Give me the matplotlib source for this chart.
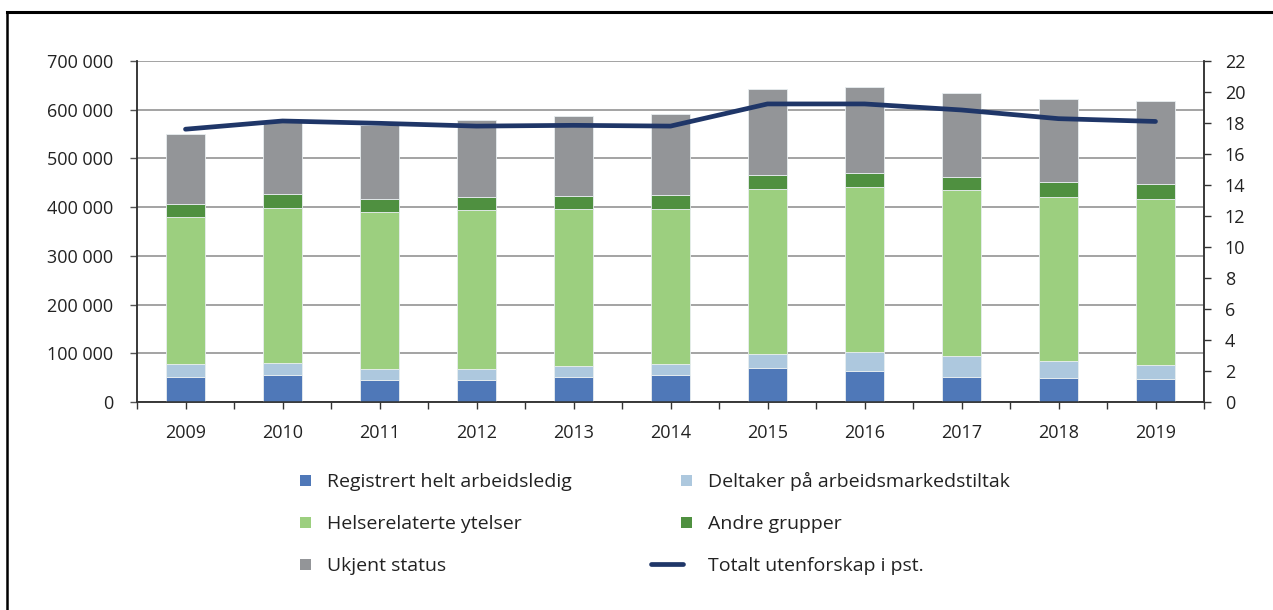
import numpy as np
import matplotlib
matplotlib.use("Agg")
import matplotlib.pyplot as plt
from matplotlib.lines import Line2D
from matplotlib.patches import Rectangle, Patch
from matplotlib.legend_handler import HandlerBase
from matplotlib.ticker import FuncFormatter, FixedLocator

years = ["2009", "2010", "2011", "2012", "2013", "2014", "2015", "2016", "2017", "2018", "2019"]
registrert = [51900, 56100, 45800, 45800, 51300, 55400, 69100, 62900, 51300, 49300, 46500]
deltaker = [26700, 23900, 21900, 21700, 22600, 21900, 30100, 39000, 43100, 34900, 29500]
helse = [301200, 318900, 322300, 327300, 322900, 319500, 338700, 340100, 340100, 337300, 340700]
andre = [27300, 28700, 27400, 26000, 26700, 28800, 28800, 28100, 28100, 30100, 30800]
ukjent = [142400, 147800, 151200, 157400, 163000, 165600, 175800, 175800, 171700, 170400, 171100]
totalt_pst = [17.6, 18.13, 17.98, 17.8, 17.85, 17.8, 19.23, 19.23, 18.84, 18.28, 18.1]

labels = ["Registrert helt arbeidsledig", "Deltaker på arbeidsmarkedstiltak",
          "Helserelaterte ytelser", "Andre grupper", "Ukjent status",
          "Totalt utenforskap i pst."]
colors = ["#4f78b8", "#adc8de", "#9ccf7f", "#4f9040", "#939598"]
line_color = "#1f3668"

plt.rcParams['font.family'] = ['Open Sans', 'DejaVu Sans']
FS = 13
LFS = 14

fig = plt.figure(figsize=(12.73, 6.10), dpi=100)
ax = fig.add_axes([137/1273, 1-402/610, (1204-137)/1273, (402-61)/610])
ax2 = ax.twinx()

x = np.arange(len(years))
series = [registrert, deltaker, helse, andre, ukjent]
bottom = np.zeros(len(years))
for vals, c, lab in zip(series, colors, labels[:5]):
    ax.bar(x, vals, width=0.4, bottom=bottom, color=c, edgecolor="#e8eef0",
           linewidth=0.6, label=lab, zorder=3)
    bottom += np.array(vals)

ln, = ax2.plot(x, totalt_pst, color=line_color, lw=3.4, solid_capstyle="round",
               solid_joinstyle="round", label=labels[5], zorder=5)

ax.set_xlim(-0.5, len(years) - 0.5)
ax.set_ylim(0, 700000)
ax2.set_ylim(0, 22)
ax.set_yticks(np.arange(0, 700001, 100000))
ax.yaxis.set_major_formatter(FuncFormatter(lambda v, p: f"{int(v):,}".replace(",", " ")))
ax2.set_yticks(np.arange(0, 23, 2))

ax.set_xticks(np.arange(-0.5, len(years), 1.0))
ax.set_xticklabels([])
ax.xaxis.set_minor_locator(FixedLocator(x))
ax.set_xticks(x, minor=True)
ax.set_xticklabels(years, minor=True)

ax.grid(axis="y", color="#8a8a8a", lw=1.1, zorder=0)
ax.set_axisbelow(True)

ax.tick_params(axis="x", which="both", direction="out", length=5, width=1, color="#333333",
               labelsize=FS, pad=11, colors="#222222")
ax.tick_params(axis="y", direction="out", length=5, width=1, color="#555555",
               labelsize=FS, pad=12, labelcolor="#222222")
ax2.tick_params(axis="y", direction="out", length=5, width=1, color="#333333",
                labelsize=FS, pad=10, labelcolor="#222222")

for a in (ax, ax2):
    a.spines["top"].set_visible(False)
    for s in ("left", "right", "bottom"):
        a.spines[s].set_color("#333333")
        a.spines[s].set_linewidth(1.1)


class SquareHandler(HandlerBase):
    def create_artists(self, legend, orig_handle, xdescent, ydescent, width, height, fontsize, trans):
        s = 7.9
        r = Rectangle((width - s - xdescent + 1.5, (height - s) / 2 - ydescent), s, s,
                      facecolor=orig_handle.get_facecolor(), edgecolor="none", transform=trans)
        return [r]


class LineHandler(HandlerBase):
    def create_artists(self, legend, orig_handle, xdescent, ydescent, width, height, fontsize, trans):
        y = height / 2 - ydescent
        l = Line2D([-xdescent - 3, width - xdescent - 5], [y, y], color=line_color, lw=3.4,
                   solid_capstyle="round", transform=trans)
        return [l]


patches = [Patch(facecolor=c) for c in colors]
handles = [patches[0], patches[2], patches[4], patches[1], patches[3], ln]
hlabels = [labels[0], labels[2], labels[4], labels[1], labels[3], labels[5]]
hmap = {p: SquareHandler() for p in patches}
hmap[ln] = LineHandler()
fig.legend(handles, hlabels, handler_map=hmap, ncol=2, loc="upper left",
           bbox_to_anchor=(275/1273, 1-472/610), frameon=False, fontsize=LFS,
           handlelength=1.75, handletextpad=0.93, columnspacing=4.3, labelspacing=1.24,
           borderpad=0, borderaxespad=0, labelcolor="#222222")

fig.add_artist(Line2D([7/1273, 1], [1-12/610, 1-12/610], color="black", lw=2.2,
                      transform=fig.transFigure))
fig.add_artist(Line2D([7/1273, 7/1273], [0, 1-12/610], color="black", lw=1.8,
                      transform=fig.transFigure))

fig.savefig("out.png", dpi=100)
